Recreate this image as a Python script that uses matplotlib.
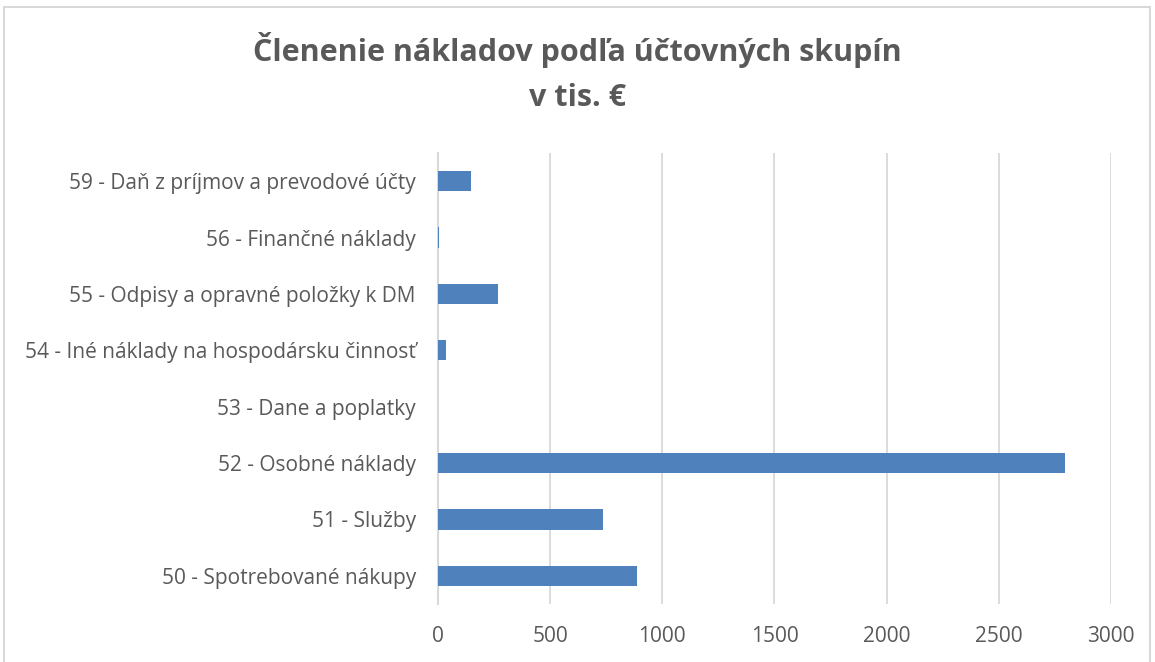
import matplotlib.pyplot as plt
from matplotlib.patches import Rectangle

categories = [
    '50 - Spotrebované nákupy',
    '51 - Služby',
    '52 - Osobné náklady',
    '53 - Dane a poplatky',
    '54 - Iné náklady na hospodársku činnosť',
    '55 - Odpisy a opravné položky k DM',
    '56 - Finančné náklady',
    '59 - Daň z príjmov a prevodové účty',
]
values = [889, 737, 2795, 1, 35, 268, 5, 145]
xticks = [0, 500, 1000, 1500, 2000, 2500, 3000]

TEXT = '#595959'
GRID = '#D9D9D9'
BAR = '#4F81BD'

plt.rcParams['font.family'] = ['Open Sans', 'DejaVu Sans']

fig = plt.figure(figsize=(11.55, 6.62), dpi=100)
ax = fig.add_axes([0.3792, 0.0876, 0.5827, 0.6813])

# chart border like the spreadsheet frame
fig.patches.append(Rectangle((4 / 1155, -0.05), 1146 / 1155, 1.05 - 7 / 662,
                             transform=fig.transFigure, fill=False,
                             edgecolor=GRID, lw=1.5))

ax.barh(range(len(categories)), values, height=0.36, color=BAR, zorder=3)

ax.set_xlim(0, 3000)
ax.set_ylim(-0.5, len(categories) - 0.5)
ax.set_xticks(xticks)
ax.set_xticklabels([str(t) for t in xticks])
ax.set_yticks(range(len(categories)))
ax.set_yticklabels(categories)

ax.grid(axis='x', color=GRID, lw=1.3, zorder=0)
for s in ('top', 'right', 'bottom'):
    ax.spines[s].set_visible(False)
ax.spines['left'].set_color(GRID)
ax.spines['left'].set_linewidth(1.5)
ax.tick_params(axis='both', length=0, colors=TEXT, labelsize=15)
ax.tick_params(axis='x', pad=16)
ax.tick_params(axis='y', pad=16)

fig.text(0.5, 1 - 50 / 662, 'Členenie nákladov podľa účtovných skupín',
         ha='center', va='center', fontsize=22, fontweight='bold', color=TEXT)
fig.text(0.5, 1 - 98 / 662, 'v tis. €',
         ha='center', va='center', fontsize=22, fontweight='bold', color=TEXT)

fig.savefig('out.png', dpi=100)
